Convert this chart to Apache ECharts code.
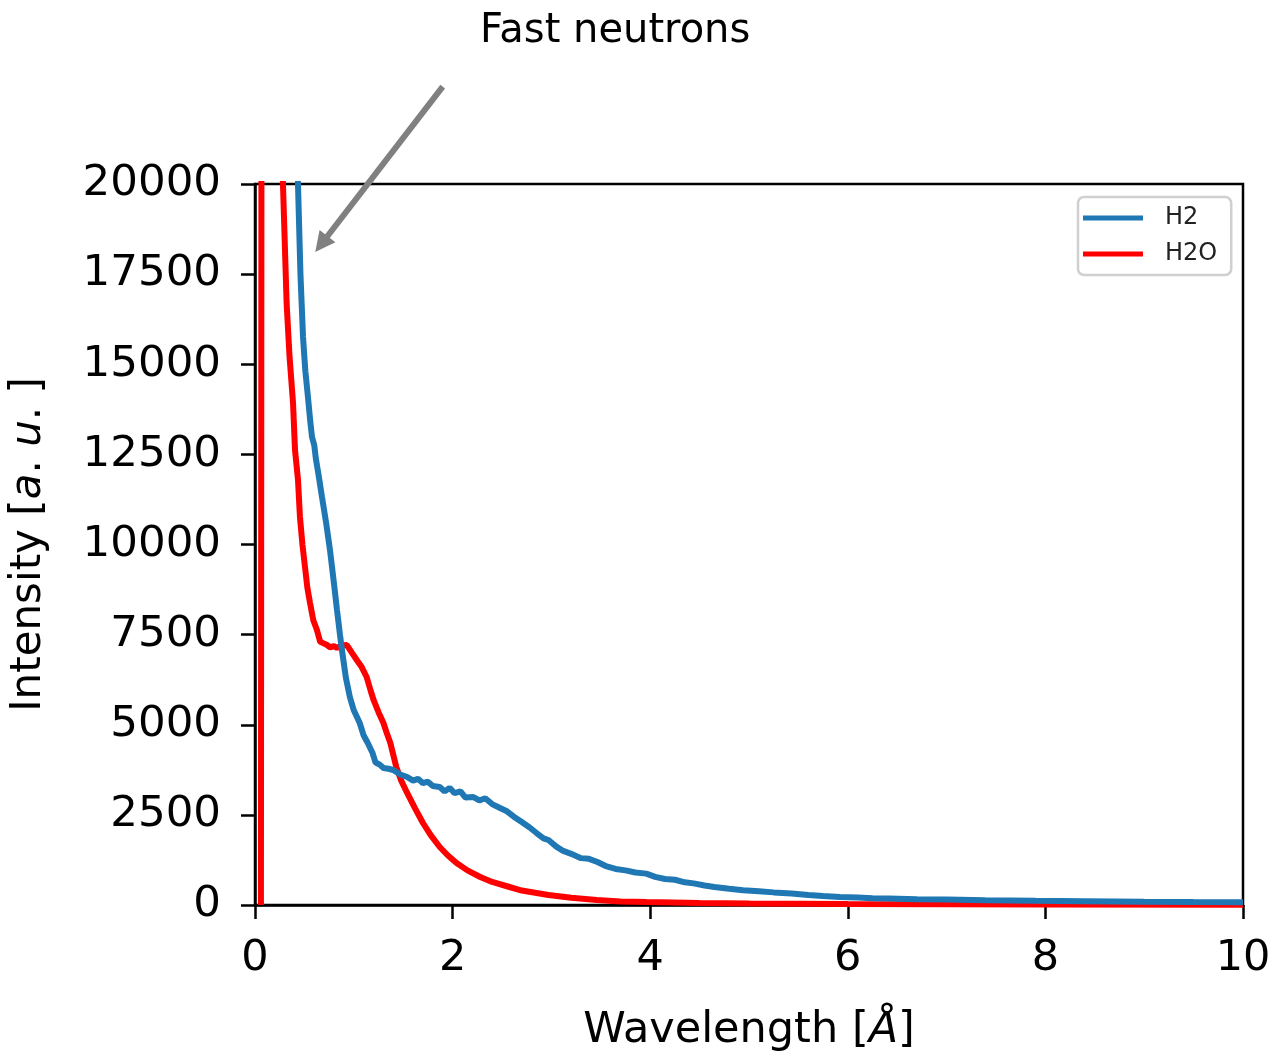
<!DOCTYPE html>
<html>
<head>
<meta charset="utf-8">
<script src="https://cdn.jsdelivr.net/npm/echarts@6/dist/echarts.min.js"></script>
<style>
html,body{margin:0;padding:0;background:#fff;}
#chart{width:1275px;height:1056px;}
</style>
</head>
<body>
<div id="chart"></div>
<script>
// ---- data ----
const seriesNames = ['H2', 'H2O'];
const h2Data = [
  [0.40, 26000], [0.435, 20000], [0.46, 17500], [0.486, 15756], [0.51, 14800], [0.536, 14091],
  [0.56, 13400], [0.577, 12982], [0.60, 12750], [0.615, 12400], [0.63, 12420], [0.645, 11900],
  [0.678, 11318], [0.72, 10600], [0.759, 9847], [0.80, 8900], [0.83, 8183], [0.86, 7500],
  [0.88, 7073], [0.92, 6300], [0.96, 5770], [1.00, 5400], [1.06, 5049], [1.10, 4700],
  [1.14, 4500], [1.19, 4216], [1.22, 3950], [1.26, 3900], [1.30, 3800], [1.35, 3780],
  [1.40, 3745], [1.47, 3620], [1.54, 3551], [1.60, 3450], [1.65, 3500], [1.70, 3380],
  [1.75, 3420], [1.80, 3300], [1.87, 3273], [1.92, 3150], [1.97, 3250], [2.02, 3100],
  [2.08, 3150], [2.13, 2980], [2.21, 2996], [2.27, 2900], [2.33, 2960], [2.40, 2800],
  [2.48, 2690], [2.55, 2600], [2.62, 2450], [2.70, 2300], [2.78, 2150], [2.85, 1997],
  [2.92, 1850], [2.97, 1803], [3.05, 1620], [3.12, 1500], [3.20, 1420], [3.30, 1300],
  [3.38, 1280], [3.46, 1200], [3.55, 1080], [3.65, 1000], [3.75, 960], [3.85, 900],
  [3.96, 870], [4.05, 780], [4.15, 720], [4.25, 700], [4.35, 630], [4.44, 600],
  [4.55, 540], [4.65, 500], [4.80, 450], [4.94, 410], [5.10, 380], [5.25, 350],
  [5.43, 320], [5.60, 280], [5.75, 250], [5.92, 222], [6.10, 210], [6.25, 190],
  [6.41, 180], [6.70, 160], [7.00, 150], [7.39, 130], [7.90, 115], [8.38, 105],
  [9.00, 90], [9.50, 80], [10.0, 75]
];
const h2oData = [
  [0.06, 0], [0.075, 60000], [0.15, 38000], [0.22, 26000], [0.283, 20000], [0.32, 16699],
  [0.35, 15200], [0.385, 13925], [0.405, 12621], [0.435, 11800], [0.455, 10763], [0.48, 10000],
  [0.506, 9376], [0.53, 8800], [0.557, 8377], [0.59, 7900], [0.627, 7628], [0.66, 7300],
  [0.70, 7250], [0.729, 7212], [0.76, 7150], [0.80, 7180], [0.83, 7129], [0.87, 7200],
  [0.93, 7212], [0.98, 7000], [1.03, 6796], [1.08, 6600], [1.13, 6325], [1.17, 5950],
  [1.20, 5687], [1.25, 5350], [1.30, 5049], [1.33, 4800], [1.37, 4494], [1.43, 3828],
  [1.48, 3450], [1.54, 3107], [1.62, 2680], [1.70, 2275], [1.78, 1930], [1.87, 1609],
  [1.95, 1380], [2.04, 1165], [2.15, 960], [2.28, 777], [2.40, 640], [2.55, 520],
  [2.70, 400], [2.85, 333], [2.97, 277], [3.20, 200], [3.46, 139], [3.70, 100],
  [3.96, 80], [4.50, 55], [5.00, 40], [6.00, 25], [7.00, 18], [8.00, 12], [10.0, 8]
];
const xTicks = [0, 2, 4, 6, 8, 10];
const yTicks = [0, 2500, 5000, 7500, 10000, 12500, 15000, 17500, 20000];
const annotationText = 'Fast neutrons';
// arrow from (wavelength, intensity) to (wavelength, intensity)
const arrowFrom = [1.90, 22700];
const arrowTo = [0.61, 18114];

const FONT = 'DejaVu Sans';
const chart = echarts.init(document.getElementById('chart'), null, {renderer: 'canvas'});

const option = {
  animation: false,
  backgroundColor: '#ffffff',
  grid: {
    left: 255, right: 32, top: 184, bottom: 151,
    containLabel: false, outerBoundsMode: 'none',
    show: true, borderColor: '#000', borderWidth: 2.5, backgroundColor: 'transparent'
  },
  legend: {
    orient: 'vertical',
    left: 1078, top: 197,
    data: seriesNames,
    icon: 'rect',
    itemWidth: 60, itemHeight: 5,
    itemGap: 10,
    padding: [8, 14, 8, 5],
    backgroundColor: '#fff',
    borderColor: '#d0d0d0', borderWidth: 2.5, borderRadius: 6,
    textStyle: {fontFamily: FONT, fontSize: 24, color: '#222', padding: [0, 0, 0, 17], lineHeight: 26}
  },
  xAxis: {
    type: 'value', min: xTicks[0], max: xTicks[xTicks.length - 1], interval: 2,
    name: 'Wavelength [{i|Å}]',
    nameLocation: 'middle', nameGap: 104,
    nameTextStyle: {fontFamily: FONT, fontSize: 43, color: '#000',
      rich: {i: {fontFamily: FONT, fontSize: 43, fontStyle: 'italic', color: '#000'}}},
    axisLine: {show: true, onZero: false, lineStyle: {color: '#000', width: 2.5}},
    axisTick: {show: true, inside: false, length: 14, lineStyle: {color: '#000', width: 2.5}},
    axisLabel: {fontFamily: FONT, fontSize: 43, color: '#000', margin: 32,
      formatter: function (v) { return String(v); }},
    splitLine: {show: false}
  },
  yAxis: {
    type: 'value', min: yTicks[0], max: yTicks[yTicks.length - 1], interval: 2500,
    name: 'Intensity [{i|a}. {i|u}. ]',
    nameLocation: 'middle', nameGap: 205,
    nameTextStyle: {fontFamily: FONT, fontSize: 42, color: '#000',
      rich: {i: {fontFamily: FONT, fontSize: 42, fontStyle: 'italic', color: '#000'}}},
    axisLine: {show: true, onZero: false, lineStyle: {color: '#000', width: 2.5}},
    axisTick: {show: true, inside: false, length: 14, lineStyle: {color: '#000', width: 2.5}},
    axisLabel: {fontFamily: FONT, fontSize: 43.5, color: '#000', margin: 34,
      formatter: function (v) { return String(v); }},
    splitLine: {show: false}
  },
  series: [
    {
      name: seriesNames[0], type: 'line', data: h2Data, showSymbol: false, symbol: 'none',
      clip: true, z: 3,
      lineStyle: {color: '#1f77b4', width: 6}, itemStyle: {color: '#1f77b4'}
    },
    {
      name: seriesNames[1], type: 'line', data: h2oData, showSymbol: false, symbol: 'none',
      clip: true, z: 2,
      lineStyle: {color: '#ff0000', width: 6}, itemStyle: {color: '#ff0000'}
    }
  ]
};
chart.setOption(option);

// annotation: arrow + text, positioned via the chart's own coordinate conversion
const p1 = chart.convertToPixel({gridIndex: 0}, arrowFrom);
const p2 = chart.convertToPixel({gridIndex: 0}, arrowTo);
const dx = p2[0] - p1[0], dy = p2[1] - p1[1];
const len = Math.sqrt(dx * dx + dy * dy);
const ux = dx / len, uy = dy / len;
const headLen = 20, headHalf = 10;
const base = [p2[0] - ux * headLen, p2[1] - uy * headLen];
const nx = -uy, ny = ux;
chart.setOption({
  graphic: [
    {
      type: 'line', z: 100,
      shape: {x1: p1[0], y1: p1[1], x2: base[0] + ux * 2, y2: base[1] + uy * 2},
      style: {stroke: '#808080', lineWidth: 6}
    },
    {
      type: 'polygon', z: 100,
      shape: {points: [p2, [base[0] + nx * headHalf, base[1] + ny * headHalf], [base[0] - nx * headHalf, base[1] - ny * headHalf]]},
      style: {fill: '#808080'}
    },
    {
      type: 'text', z: 100, left: 620 - 140, top: 12,
      style: {text: annotationText, fontFamily: FONT, fontSize: 40, fill: '#000'}
    }
  ]
});
</script>
</body>
</html>
